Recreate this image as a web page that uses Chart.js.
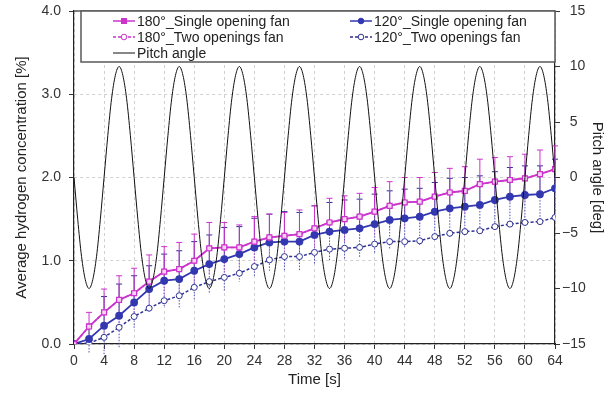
<!DOCTYPE html>
<html>
<head>
<meta charset="utf-8">
<script src="https://cdn.jsdelivr.net/npm/chart.js@4.4.1/dist/chart.umd.min.js"></script>
<style>
  html, body { margin: 0; padding: 0; background: #fff; }
  #wrap { width: 611px; height: 394px; position: relative; }
</style>
</head>
<body>
<div id="wrap"><canvas id="chart"></canvas></div>
<script>
// time axis of the measurements [s]
const times = [0, 2, 4, 6, 8, 10, 12, 14, 16, 18, 20, 22, 24, 26, 28, 30, 32,
  34, 36, 38, 40, 42, 44, 46, 48, 50, 52, 54, 56, 58, 60, 62, 64];

// average hydrogen concentration [%]
const conc180Single = [0, 0.21, 0.38, 0.53, 0.61, 0.75, 0.87, 0.90, 1.00, 1.15, 1.16, 1.16, 1.23, 1.28, 1.30, 1.32, 1.39,
  1.46, 1.50, 1.53, 1.59, 1.66, 1.70, 1.71, 1.77, 1.82, 1.84, 1.92, 1.95, 1.97, 1.99, 2.04, 2.10];
const conc180Two = [0, 0.21, 0.38, 0.53, 0.61, 0.75, 0.87, 0.90, 1.00, 1.15, 1.16, 1.16, 1.23, 1.28, 1.30, 1.32, 1.39,
  1.46, 1.50, 1.53, 1.59, 1.66, 1.70, 1.71, 1.77, 1.82, 1.84, 1.92, 1.95, 1.97, 1.99, 2.04, 2.10];
const conc120Single = [0, 0.06, 0.22, 0.34, 0.50, 0.66, 0.76, 0.78, 0.88, 0.96, 1.02, 1.08, 1.16, 1.22, 1.23, 1.23, 1.31,
  1.35, 1.37, 1.39, 1.44, 1.49, 1.51, 1.53, 1.59, 1.63, 1.65, 1.67, 1.73, 1.77, 1.79, 1.80, 1.87];
const conc120Two = [0, 0.01, 0.08, 0.20, 0.33, 0.43, 0.52, 0.58, 0.68, 0.75, 0.80, 0.85, 0.93, 1.01, 1.05, 1.05, 1.10,
  1.14, 1.15, 1.16, 1.20, 1.23, 1.23, 1.24, 1.29, 1.33, 1.35, 1.36, 1.41, 1.44, 1.46, 1.47, 1.52];

// error bar half widths [%]
const err180Single = [0, 0.17, 0.28, 0.29, 0.30, 0.32, 0.30, 0.32, 0.32, 0.31, 0.30, 0.27, 0.30, 0.28, 0.28, 0.29, 0.27,
  0.29, 0.28, 0.28, 0.29, 0.29, 0.30, 0.29, 0.29, 0.29, 0.29, 0.30, 0.29, 0.28, 0.29, 0.29, 0.28];
const err120Single = [0, 0.18, 0.35, 0.38, 0.32, 0.28, 0.32, 0.34, 0.35, 0.35, 0.38, 0.33, 0.35, 0.34, 0.36, 0.35, 0.35,
  0.35, 0.36, 0.35, 0.36, 0.35, 0.35, 0.34, 0.35, 0.36, 0.35, 0.35, 0.34, 0.35, 0.35, 0.34, 0.35];

// pitch angle [deg], one reading every 0.5 s
const pitchTimes = [
  0, 0.5, 1, 1.5, 2, 2.5, 3, 3.5, 4, 4.5, 5, 5.5, 6, 6.5, 7, 7.5,
  8, 8.5, 9, 9.5, 10, 10.5, 11, 11.5, 12, 12.5, 13, 13.5, 14, 14.5, 15, 15.5,
  16, 16.5, 17, 17.5, 18, 18.5, 19, 19.5, 20, 20.5, 21, 21.5, 22, 22.5, 23, 23.5,
  24, 24.5, 25, 25.5, 26, 26.5, 27, 27.5, 28, 28.5, 29, 29.5, 30, 30.5, 31, 31.5,
  32, 32.5, 33, 33.5, 34, 34.5, 35, 35.5, 36, 36.5, 37, 37.5, 38, 38.5, 39, 39.5,
  40, 40.5, 41, 41.5, 42, 42.5, 43, 43.5, 44, 44.5, 45, 45.5, 46, 46.5, 47, 47.5,
  48, 48.5, 49, 49.5, 50, 50.5, 51, 51.5, 52, 52.5, 53, 53.5, 54, 54.5, 55, 55.5,
  56, 56.5, 57, 57.5, 58, 58.5, 59, 59.5, 60, 60.5, 61, 61.5, 62, 62.5, 63, 63.5, 64];
const pitchAngle = [
  0, -3.8, -7.1, -9.2, -10, -9.2, -7.1, -3.8, 0, 3.8, 7.1, 9.2, 10, 9.2, 7.1, 3.8,
  0, -3.8, -7.1, -9.2, -10, -9.2, -7.1, -3.8, 0, 3.8, 7.1, 9.2, 10, 9.2, 7.1, 3.8,
  0, -3.8, -7.1, -9.2, -10, -9.2, -7.1, -3.8, 0, 3.8, 7.1, 9.2, 10, 9.2, 7.1, 3.8,
  0, -3.8, -7.1, -9.2, -10, -9.2, -7.1, -3.8, 0, 3.8, 7.1, 9.2, 10, 9.2, 7.1, 3.8,
  0, -3.8, -7.1, -9.2, -10, -9.2, -7.1, -3.8, 0, 3.8, 7.1, 9.2, 10, 9.2, 7.1, 3.8,
  0, -3.8, -7.1, -9.2, -10, -9.2, -7.1, -3.8, 0, 3.8, 7.1, 9.2, 10, 9.2, 7.1, 3.8,
  0, -3.8, -7.1, -9.2, -10, -9.2, -7.1, -3.8, 0, 3.8, 7.1, 9.2, 10, 9.2, 7.1, 3.8,
  0, -3.8, -7.1, -9.2, -10, -9.2, -7.1, -3.8, 0, 3.8, 7.1, 9.2, 10, 9.2, 7.1, 3.8, 0];

// tick labels
const xTicks = [0, 4, 8, 12, 16, 20, 24, 28, 32, 36, 40, 44, 48, 52, 56, 60, 64];
const leftTicks = ['0.0', '1.0', '2.0', '3.0', '4.0'];
const rightTicks = [-15, -10, -5, 0, 5, 10, 15];

const FONT = "'Liberation Sans', Arial, sans-serif";
const MAGENTA = '#cc33cc';
const BLUE = '#3338b0';
const NAVY = '#2e3192';

const pts = (xs, ys) => xs.map((x, i) => ({ x: x, y: ys[i] }));

// error bars: solid up with cap, dotted down
const errorBars = {
  id: 'errorBars',
  beforeDatasetsDraw(chart) {
    const ctx = chart.ctx;
    const xs = chart.scales.x, ys = chart.scales.y;
    const sets = [
      { vals: conc120Single, err: err120Single, up: NAVY, down: '#5050c0' },
      { vals: conc180Single, err: err180Single, up: MAGENTA, down: '#b858c8' }
    ];
    ctx.save();
    sets.forEach(s => {
      times.forEach((t, i) => {
        if (!s.err[i]) return;
        const px = xs.getPixelForValue(t);
        const py = ys.getPixelForValue(s.vals[i]);
        const top = ys.getPixelForValue(s.vals[i] + s.err[i]);
        const bot = ys.getPixelForValue(s.vals[i] - s.err[i]);
        ctx.lineWidth = 1;
        ctx.setLineDash([]);
        ctx.strokeStyle = s.up;
        ctx.beginPath();
        ctx.moveTo(px, py); ctx.lineTo(px, top);
        ctx.moveTo(px - 3, top); ctx.lineTo(px + 3, top);
        ctx.stroke();
        ctx.setLineDash([1.5, 1.5]);
        ctx.strokeStyle = s.down;
        ctx.beginPath();
        ctx.moveTo(px, py); ctx.lineTo(px, bot);
        ctx.stroke();
      });
    });
    ctx.restore();
  }
};

// boxed two-column legend at the top of the plot
const boxLegend = {
  id: 'boxLegend',
  afterDraw(chart) {
    const ctx = chart.ctx, a = chart.chartArea;
    ctx.save();
    ctx.strokeStyle = '#595959';
    ctx.lineWidth = 1.5;
    ctx.beginPath();
    ctx.moveTo(a.left, a.top); ctx.lineTo(a.right, a.top);
    ctx.stroke();
    const bx = 81, by = a.top, bw = a.right - 81, bh = 51;
    ctx.fillStyle = '#fff';
    ctx.fillRect(bx, by, bw, bh);
    ctx.strokeRect(bx, by, bw, bh);

    const items = [
      { text: '180°_Single opening fan', x: 113, y: a.top + 10, color: MAGENTA, dash: [], marker: 'rect', fill: MAGENTA },
      { text: '180°_Two openings fan', x: 113, y: a.top + 26, color: MAGENTA, dash: [3, 2], marker: 'circle', fill: '#fff' },
      { text: 'Pitch angle', x: 113, y: a.top + 42, color: '#111', dash: [], marker: null },
      { text: '120°_Single opening fan', x: 350, y: a.top + 10, color: BLUE, dash: [], marker: 'circle', fill: BLUE },
      { text: '120°_Two openings fan', x: 350, y: a.top + 26, color: NAVY, dash: [3, 2], marker: 'circle', fill: '#fff' }
    ];
    ctx.font = '14px ' + FONT;
    ctx.textBaseline = 'middle';
    items.forEach(it => {
      ctx.setLineDash(it.dash);
      ctx.strokeStyle = it.color;
      ctx.lineWidth = it.marker ? 1.5 : 1;
      ctx.beginPath();
      ctx.moveTo(it.x, it.y); ctx.lineTo(it.x + 22, it.y);
      ctx.stroke();
      ctx.setLineDash([]);
      if (it.marker === 'rect') {
        ctx.fillStyle = it.fill;
        ctx.fillRect(it.x + 8, it.y - 3, 6, 6);
      } else if (it.marker === 'circle') {
        ctx.fillStyle = it.fill;
        ctx.lineWidth = 1;
        ctx.beginPath();
        ctx.arc(it.x + 11, it.y, 2.8, 0, Math.PI * 2);
        ctx.fill(); ctx.stroke();
      }
      ctx.fillStyle = '#222';
      ctx.fillText(it.text, it.x + 24, it.y + 1);
    });
    ctx.restore();
  }
};

new Chart(document.getElementById('chart'), {
  type: 'line',
  data: {
    datasets: [
      {
        label: 'Pitch angle',
        data: pts(pitchTimes, pitchAngle),
        yAxisID: 'y2',
        borderColor: '#111',
        borderWidth: 1,
        pointRadius: 0,
        cubicInterpolationMode: 'monotone',
        order: 0
      },
      {
        label: '180°_Single opening fan',
        data: pts(times, conc180Single),
        yAxisID: 'y',
        borderColor: MAGENTA,
        borderWidth: 1.8,
        pointStyle: 'rect',
        pointRadius: 3.5,
        pointBackgroundColor: '#f4d4f4',
        pointBorderColor: MAGENTA,
        pointBorderWidth: 1.2,
        order: 1
      },
      {
        label: '180°_Two openings fan',
        data: pts(times, conc180Two),
        yAxisID: 'y',
        borderColor: MAGENTA,
        borderWidth: 1.5,
        borderDash: [3, 2],
        pointStyle: 'circle',
        pointRadius: 2.8,
        pointBackgroundColor: '#fff',
        pointBorderColor: MAGENTA,
        pointBorderWidth: 1,
        order: 2
      },
      {
        label: '120°_Single opening fan',
        data: pts(times, conc120Single),
        yAxisID: 'y',
        borderColor: BLUE,
        borderWidth: 1.8,
        pointStyle: 'circle',
        pointRadius: 3,
        pointBackgroundColor: BLUE,
        pointBorderColor: BLUE,
        order: 3
      },
      {
        label: '120°_Two openings fan',
        data: pts(times, conc120Two),
        yAxisID: 'y',
        borderColor: NAVY,
        borderWidth: 1.5,
        borderDash: [3, 2],
        pointStyle: 'circle',
        pointRadius: 3,
        pointBackgroundColor: '#fff',
        pointBorderColor: NAVY,
        pointBorderWidth: 1,
        order: 4
      }
    ]
  },
  options: {
    responsive: true,
    maintainAspectRatio: false,
    animation: false,
    layout: { padding: { top: 11, left: 0, right: 0, bottom: 0 } },
    plugins: { legend: { display: false }, tooltip: { enabled: false } },
    scales: {
      x: {
        type: 'linear',
        min: 0, max: 64,
        afterFit: s => { s.height = 50; s.paddingLeft = 0; s.paddingRight = 0; },
        afterBuildTicks: s => { s.ticks = xTicks.map(v => ({ value: v })); },
        ticks: { color: '#333', font: { family: FONT, size: 14 }, padding: 4, maxRotation: 0 },
        grid: { color: '#d0d0d0', tickColor: '#333', tickLength: 5, tickBorderDash: [] },
        border: { color: '#222', width: 1.2, dash: [3, 3] },
        title: { display: true, text: 'Time [s]', color: '#222', font: { family: FONT, size: 15 }, padding: { bottom: 5 } }
      },
      y: {
        position: 'left',
        min: 0, max: 4,
        afterFit: s => { s.width = 74; s.paddingTop = 0; s.paddingBottom = 0; },
        afterBuildTicks: s => { s.ticks = leftTicks.map(v => ({ value: parseFloat(v) })); },
        ticks: { color: '#333', font: { family: FONT, size: 14 }, padding: 8, callback: (v, i) => leftTicks[i] },
        grid: { color: '#d0d0d0', tickColor: '#333', tickLength: 5, tickBorderDash: [] },
        border: { color: '#222', width: 1.2, dash: [3, 3] },
        title: { display: true, text: 'Average hydrogen concentration [%]', color: '#222', font: { family: FONT, size: 15 }, padding: { top: 13 } }
      },
      y2: {
        position: 'right',
        min: -15, max: 15,
        afterFit: s => { s.width = 56; s.paddingTop = 0; s.paddingBottom = 0; },
        afterBuildTicks: s => { s.ticks = rightTicks.map(v => ({ value: v })); },
        ticks: {
          color: '#333', font: { family: FONT, size: 14 }, padding: 2,
          callback: v => v < 0 ? '\u2212' + Math.abs(v) : '  ' + v
        },
        grid: { drawOnChartArea: false, tickColor: '#333', tickLength: 5 },
        border: { color: '#222', width: 1.2 },
        title: { display: true, text: 'Pitch angle [deg]', color: '#222', font: { family: FONT, size: 15 }, padding: { top: 5 } }
      }
    }
  },
  plugins: [errorBars, boxLegend]
});
</script>
</body>
</html>
